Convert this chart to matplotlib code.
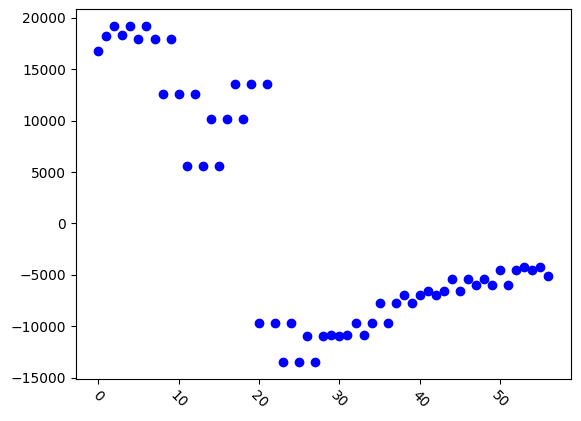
import matplotlib
matplotlib.use('Agg')
import matplotlib.pyplot as plt
import numpy as np

# values, one per index 0..56
values = [16800, 18200, 19200, 18300, 19200, 17900, 19200, 17900, 12600, 17900,
          12600, 5550, 12600, 5550, 10200, 5550, 10200, 13600, 10200, 13600,
          -9700, 13600, -9700, -13500, -9700, -13500, -11000, -13500, -11000, -10900,
          -11000, -10900, -9650, -10900, -9650, -7700, -9650, -7700, -6980, -7700,
          -6980, -6620, -6980, -6620, -5420, -6620, -5420, -6000, -5420, -6000,
          -4550, -6000, -4550, -4260, -4550, -4260, -5130]
x = np.arange(len(values))

fig = plt.figure(figsize=(5.81, 4.21), dpi=100)
plt.subplots_adjust(left=0.1303, right=0.9828, top=0.9779, bottom=0.0998)
plt.plot(x, values, 'bo')
plt.xticks(rotation=-45)

plt.savefig('out.png', dpi=100)
